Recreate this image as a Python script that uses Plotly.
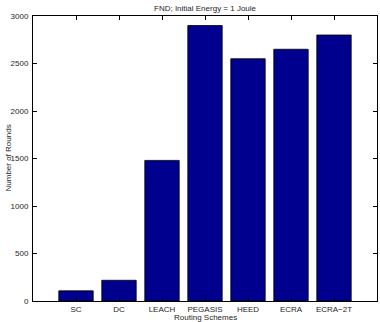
import plotly.graph_objects as go

categories = ["SC", "DC", "LEACH", "PEGASIS", "HEED", "ECRA", "ECRA\u22122T"]
rounds = [107, 218, 1480, 2900, 2550, 2650, 2800]
y_ticks = [0, 500, 1000, 1500, 2000, 2500, 3000]

xpos = list(range(1, len(categories) + 1))

fig = go.Figure()
fig.add_trace(go.Bar(
    x=xpos, y=rounds, width=0.8,
    marker=dict(color="#00008F", line=dict(color="#000000", width=0.8)),
))

font = dict(family="Liberation Sans, Arial, sans-serif", size=8, color="#262626")

fig.update_layout(
    width=380, height=322,
    margin=dict(l=33, r=3, t=16, b=21, autoexpand=False),
    paper_bgcolor="white", plot_bgcolor="white",
    showlegend=False,
    font=font,
    xaxis=dict(
        range=[0, 8], tickmode="array", tickvals=xpos, ticktext=categories,
        ticks="inside", ticklen=4, tickcolor="#000", showline=True, linecolor="#000",
        linewidth=1, mirror="ticks", showgrid=False, zeroline=False, automargin=False,
        tickfont=font,
    ),
    yaxis=dict(
        range=[0, 3000], tickmode="array", tickvals=y_ticks,
        ticks="inside", ticklen=4, tickcolor="#000", showline=True, linecolor="#000",
        linewidth=1, mirror="ticks", showgrid=False, zeroline=False, automargin=False,
        tickfont=font, ticklabelstandoff=2,
    ),
    annotations=[
        dict(text="FND; Initial Energy = 1 Joule", xref="paper", yref="paper",
             x=0.5, y=1, yshift=8, xanchor="center", yanchor="middle",
             showarrow=False, font=font),
        dict(text="Routing Schemes", xref="paper", yref="paper",
             x=0.5, y=0, yshift=-16, xanchor="center", yanchor="middle",
             showarrow=False, font=font),
        dict(text="Number of Rounds", xref="paper", yref="paper",
             x=0, y=0.5, xshift=-25, xanchor="center", yanchor="middle",
             textangle=-90, showarrow=False, font=font),
    ],
)

fig.write_html("out.html")
